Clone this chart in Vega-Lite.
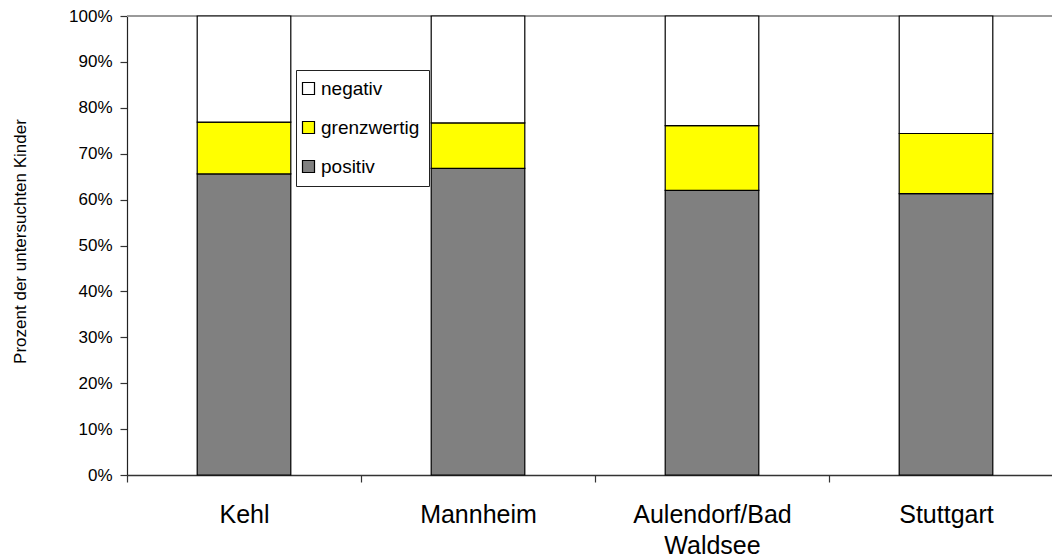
{
  "$schema": "https://vega.github.io/schema/vega-lite/v6.json",
  "autosize": "none",
  "width": 925,
  "height": 459,
  "padding": {"left": 127, "top": 16, "right": 0, "bottom": 84},
  "background": "white",
  "config": {
    "view": {"stroke": null},
    "font": "Liberation Sans"
  },
  "data": {
    "values": [
      {"ort": "Kehl", "befund": "positiv", "stufe": 1, "anteil": 0.656},
      {"ort": "Kehl", "befund": "grenzwertig", "stufe": 2, "anteil": 0.113},
      {"ort": "Kehl", "befund": "negativ", "stufe": 3, "anteil": 0.231},
      {"ort": "Mannheim", "befund": "positiv", "stufe": 1, "anteil": 0.668},
      {"ort": "Mannheim", "befund": "grenzwertig", "stufe": 2, "anteil": 0.099},
      {"ort": "Mannheim", "befund": "negativ", "stufe": 3, "anteil": 0.233},
      {"ort": "Aulendorf/Bad Waldsee", "befund": "positiv", "stufe": 1, "anteil": 0.620},
      {"ort": "Aulendorf/Bad Waldsee", "befund": "grenzwertig", "stufe": 2, "anteil": 0.141},
      {"ort": "Aulendorf/Bad Waldsee", "befund": "negativ", "stufe": 3, "anteil": 0.239},
      {"ort": "Stuttgart", "befund": "positiv", "stufe": 1, "anteil": 0.613},
      {"ort": "Stuttgart", "befund": "grenzwertig", "stufe": 2, "anteil": 0.131},
      {"ort": "Stuttgart", "befund": "negativ", "stufe": 3, "anteil": 0.256}
    ]
  },
  "layer": [
    {
      "mark": {"type": "rule", "color": "#9a9a9a", "strokeWidth": 2},
      "encoding": {
        "y": {"datum": 1, "type": "quantitative", "title": "Prozent der untersuchten Kinder"}
      }
    },
    {
      "mark": {"type": "bar", "stroke": "black", "strokeWidth": 1.2},
      "encoding": {
        "x": {
          "field": "ort",
          "type": "nominal",
          "sort": ["Kehl", "Mannheim", "Aulendorf/Bad Waldsee", "Stuttgart"],
          "scale": {"range": [0, 936], "paddingInner": 0.6, "paddingOuter": 0.3},
          "axis": {
            "title": null,
            "labelAngle": 0,
            "labelExpr": "split(datum.label, ' ')",
            "labelFontSize": 25,
            "labelLineHeight": 31,
            "labelColor": "black",
            "labelPadding": 20,
            "labelOverlap": false,
            "labelLimit": 300,
            "labelOffset": 117,
            "domainColor": "#333333",
            "domainWidth": 1.5,
            "tickColor": "#333333",
            "tickWidth": 1.2,
            "tickSize": 7,
            "tickOffset": -117,
            "grid": false
          }
        },
        "y": {
          "field": "anteil",
          "type": "quantitative",
          "stack": true,
          "title": "Prozent der untersuchten Kinder",
          "scale": {"domain": [0, 1], "nice": false},
          "axis": {
            "format": ".0%",
            "values": [0, 0.1, 0.2, 0.3, 0.4, 0.5, 0.6, 0.7, 0.8, 0.9, 1],
            "labelFontSize": 17,
            "labelColor": "black",
            "labelPadding": 8,
            "domainColor": "#222222",
            "domainWidth": 1.2,
            "tickColor": "#333333",
            "tickWidth": 1.2,
            "tickSize": 7,
            "grid": false,
            "titleFontSize": 17,
            "titleFontWeight": "normal",
            "titleColor": "black",
            "titleAngle": -90,
            "titleAlign": "center",
            "titleBaseline": "alphabetic",
            "titleX": -102,
            "titleY": 225
          }
        },
        "color": {
          "field": "befund",
          "type": "nominal",
          "scale": {
            "domain": ["negativ", "grenzwertig", "positiv"],
            "range": ["#ffffff", "#ffff00", "#808080"]
          },
          "legend": {
            "orient": "none",
            "legendX": 169,
            "legendY": 54,
            "title": null,
            "fillColor": "white",
            "strokeColor": "#222222",
            "padding": 9,
            "rowPadding": 19,
            "labelFontSize": 19,
            "labelColor": "black",
            "labelOffset": 3,
            "symbolOffset": -6,
            "symbolType": "square",
            "symbolSize": 144,
            "symbolStrokeColor": "black",
            "symbolStrokeWidth": 1.2
          }
        },
        "order": {"field": "stufe", "type": "quantitative"}
      }
    }
  ]
}
